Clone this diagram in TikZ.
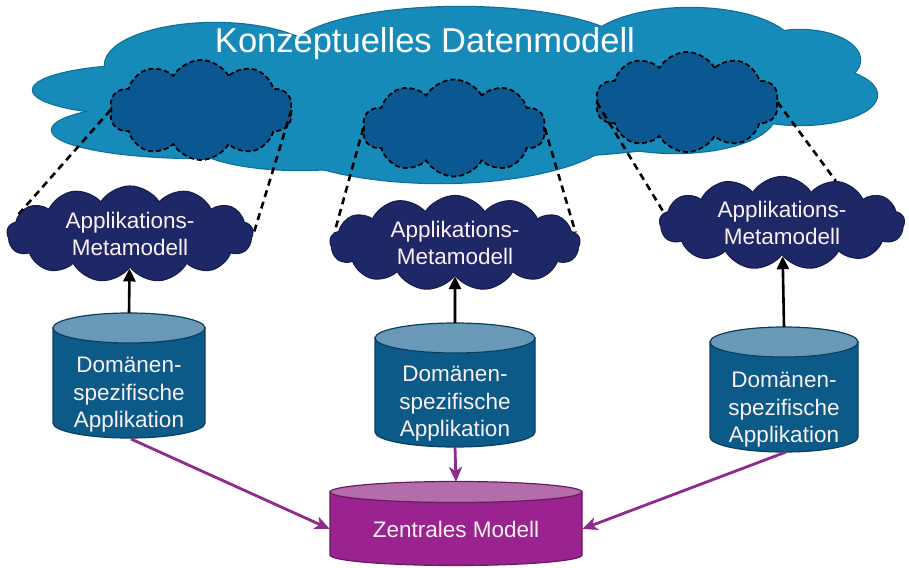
\documentclass[tikz,border=0pt]{standalone}
\usepackage{fontspec}
\setmainfont{Liberation Sans}
\usetikzlibrary{shapes.symbols,arrows.meta}
\definecolor{bigblue}{HTML}{168AB9}
\definecolor{bigline}{HTML}{0F6F99}
\definecolor{innerblue}{HTML}{0A5792}
\definecolor{navy}{HTML}{1F2867}
\definecolor{navyline}{HTML}{161D4F}
\definecolor{cylbody}{HTML}{0C5A87}
\definecolor{cyltop}{HTML}{6A98B7}
\definecolor{cylline}{HTML}{0A3F62}
\definecolor{zbody}{HTML}{9A238F}
\definecolor{ztop}{HTML}{B46DAB}
\definecolor{zline}{HTML}{6A1A63}
\definecolor{flowc}{HTML}{8F2B8D}
\definecolor{txt}{HTML}{FBF1F5}
\newcommand{\mycyl}[8]{%
  \filldraw[fill=#6, draw=#8, line width=1.2pt] (#1-#4,#2) -- (#1-#4,#3)
    arc[start angle=180, end angle=360, x radius=#4pt, y radius=#5pt] -- (#1+#4,#2) -- cycle;
  \filldraw[fill=#7, draw=#8, line width=1.2pt] (#1,#2) ellipse[x radius=#4pt, y radius=#5pt];
}
\tikzset{
  innercloud/.style={cloud, cloud puffs=10, cloud puff arc=120, cloud ignores aspect,
    draw=black, dash pattern=on 5pt off 3pt, line width=1.8pt, fill=innerblue,
    minimum width=183pt, minimum height=100pt, inner sep=0pt},
  appcloud/.style={cloud, cloud puffs=13, cloud puff arc=115, cloud ignores aspect,
    draw=navyline, fill=navy, line width=1.2pt, minimum width=246pt, minimum height=96pt,
    text=txt, align=center, font=\fontsize{22.5}{27.5}\selectfont, inner sep=0pt},
  cyltext/.style={text=txt, align=center, font=\fontsize{22.5}{27.5}\selectfont, inner sep=0pt},
  link/.style={draw=black, dash pattern=on 7pt off 5pt, line width=2.6pt},
  uparrow/.style={draw=black, line width=2.6pt, -{Triangle[length=13pt,width=12pt]}},
  flow/.style={draw=flowc, line width=2.8pt, -{Stealth[length=15pt,width=13pt,inset=4pt]}},
}
\begin{document}
\begin{tikzpicture}[x=1pt,y=-1pt]
\useasboundingbox[fill=white] (0,0) rectangle (909,567);
% big cloud: outline then fill
\foreach \cx/\cy/\rx/\ry in {150/90/117/25, 200/130/148/28, 300/140/110/30, 440/125/180/58,
    675/115/100/38, 800/95/77/30, 800/60/60/30, 690/50/105/42, 460/52/170/45, 215/65/110/42, 450/100/350/60}
  \draw[draw=bigline, line width=2.4pt] (\cx,\cy) ellipse[x radius=\rx pt, y radius=\ry pt];
\foreach \cx/\cy/\rx/\ry in {150/90/117/25, 200/130/148/28, 300/140/110/30, 440/125/180/58,
    675/115/100/38, 800/95/77/30, 800/60/60/30, 690/50/105/42, 460/52/170/45, 215/65/110/42, 450/100/350/60}
  \fill[bigblue] (\cx,\cy) ellipse[x radius=\rx pt, y radius=\ry pt];
\node[anchor=base, text=white, font=\fontsize{34.5}{40}\selectfont, inner sep=0pt] (title) at (425,53) {Konzeptuelles Datenmodell};

% inner clouds
\node[innercloud] (i1) at (201,110) {};
\node[innercloud, minimum height=97pt] (i2) at (454,128) {};
\node[innercloud] (i3) at (687,102) {};

% application clouds
\node[appcloud] (a1) at (130,234) {Applikations-\\Metamodell};
\node[appcloud, minimum width=250pt, minimum height=95pt] (a2) at (455,243) {Applikations-\\Metamodell};
\node[appcloud, minimum width=245pt, minimum height=93pt] (a3) at (782,223) {Applikations-\\Metamodell};

% dashed links
\draw[link] (i1.west) -- (a1.170);
\draw[link] (i1.east) -- (a1.east);
\draw[link] (i2.west) -- (a2.175);
\draw[link] (i2.east) -- (a2.5);
\draw[link] (i3.west) -- (a3.175);
\draw[link] (i3.east) -- (a3.38);

% cylinders
\mycyl{129}{328}{423}{76}{15}{cylbody}{cyltop}{cylline}
\mycyl{455}{338}{432}{80}{15}{cylbody}{cyltop}{cylline}
\mycyl{784}{342}{437}{74}{15}{cylbody}{cyltop}{cylline}
\mycyl{456}{492}{555}{126}{10.5}{zbody}{ztop}{zline}

\node[cyltext] (d1) at (129,395) {Domänen-\\spezifische\\Applikation};
\node[cyltext] (d2) at (455,404) {Domänen-\\spezifische\\Applikation};
\node[cyltext] (d3) at (784,410) {Domänen-\\spezifische\\Applikation};
\node[cyltext, minimum width=252pt, minimum height=74pt] (z) at (456,529) {Zentrales Modell};

\coordinate (d1top) at (129,313);
\coordinate (d2top) at (455,323);
\coordinate (d3top) at (784,327);
\coordinate (d1bot) at (131,439);
\coordinate (d2bot) at (455,447);
\coordinate (d3bot) at (786,452);
\coordinate (ztopc) at (456,482);

\draw[uparrow] (d1top) -- (a1);
\draw[uparrow] (d2top) -- (a2);
\draw[uparrow] (d3top) -- (a3);

\draw[flow] (d1bot) -- (z.west);
\draw[flow] (d2bot) -- (ztopc);
\draw[flow] (d3bot) -- (z.east);
\end{tikzpicture}
\end{document}
